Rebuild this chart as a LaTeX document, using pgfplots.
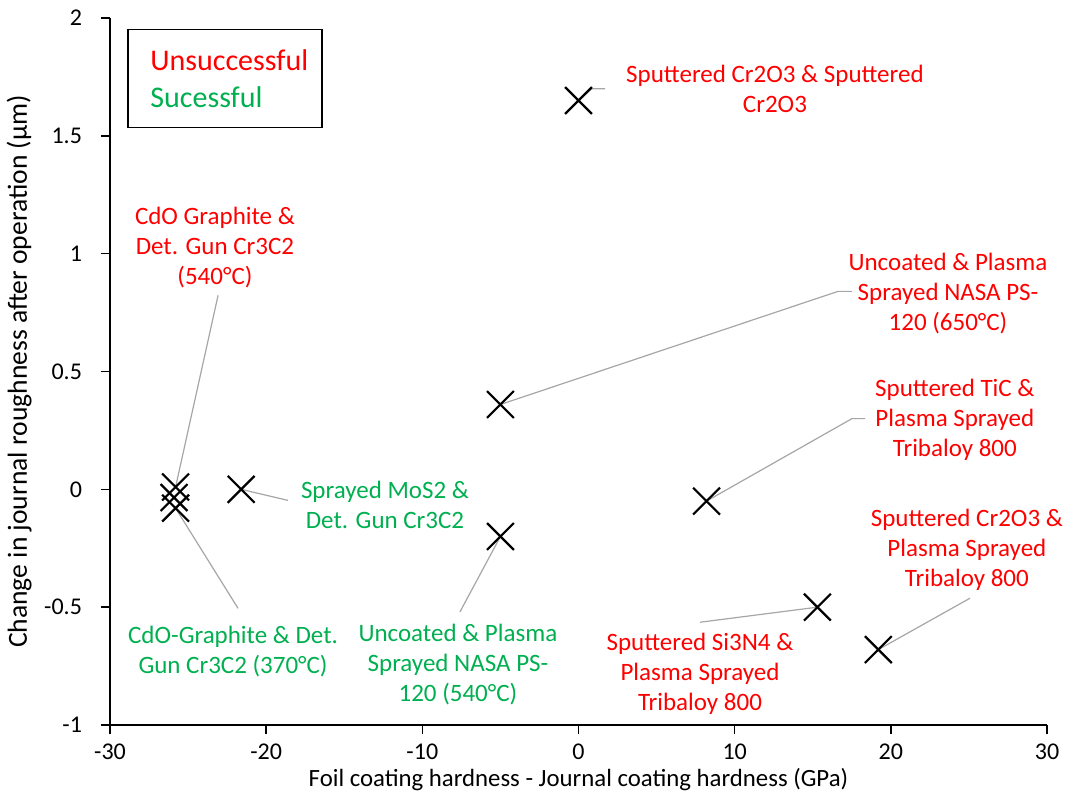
\documentclass[border=0pt]{standalone}
\usepackage{pgfplots}
\pgfplotsset{compat=1.18}
\usepackage{pgfplotstable}
\usepackage{fontspec}
\setmainfont{Carlito}

\definecolor{unsucc}{HTML}{FF0000}
\definecolor{succ}{HTML}{00B050}
\definecolor{leader}{HTML}{A6A6A6}

% hardness difference (GPa) vs change in journal roughness (um)
\pgfplotstableread{
x      y
0.0    1.65
-25.8  0.01
-25.9  -0.035
-25.8  -0.08
-21.6  0.00
-5.0   0.36
-5.0   -0.20
8.2    -0.05
15.3   -0.50
19.2   -0.68
}\coatings

\begin{document}
\begin{tikzpicture}[
    ann/.style={align=center, font=\fontsize{12.5}{15}\selectfont},
    lead/.style={leader, line width=0.6pt}
  ]
  \begin{axis}[
      scale only axis,
      width=468.5pt, height=353.5pt,
      xmin=-30, xmax=30, ymin=-1, ymax=2,
      xtick={-30,-20,...,30},
      ytick={-1,-0.5,...,2},
      axis x line*=bottom,
      axis y line*=left,
      axis line style={-, line width=0.8pt},
      tick align=outside,
      major tick length=4.5pt,
      tick style={line width=0.8pt, black},
      ticklabel style={font=\fontsize{12}{14}\selectfont},
      xticklabel style={yshift=-1.5pt},
      yticklabel style={xshift=-6pt},
      /pgf/number format/assume math mode=true,
      xlabel={Foil coating hardness - Journal coating hardness (GPa)},
      ylabel={Change in journal roughness after operation (μm)},
      xlabel style={font=\fontsize{12.4}{15}\selectfont,
        at={(axis description cs:0.5,-0.0866)}, anchor=base},
      ylabel style={font=\fontsize{13.8}{16}\selectfont,
        at={(axis description cs:-0.0886,0.5)}, anchor=base},
      clip=false,
    ]
    % leader lines
    \draw[lead] (axis cs:0,1.65) -- (axis cs:0.86,1.70) -- (axis cs:1.70,1.70);
    \draw[lead] (axis cs:-23.08,0.823) -- (axis cs:-25.8,0.01);
    \draw[lead] (axis cs:-5,0.36) -- (axis cs:16.62,0.84) -- (axis cs:17.51,0.84);
    \draw[lead] (axis cs:8.2,-0.05) -- (axis cs:17.51,0.30) -- (axis cs:18.35,0.30);
    \draw[lead] (axis cs:-21.6,0) -- (axis cs:-18.60,-0.047);
    \draw[lead] (axis cs:-7.59,-0.52) -- (axis cs:-5,-0.2);
    \draw[lead] (axis cs:-21.80,-0.505) -- (axis cs:-25.8,-0.08);
    \draw[lead] (axis cs:25.07,-0.462) -- (axis cs:19.2,-0.68);
    \draw[lead] (axis cs:7.78,-0.564) -- (axis cs:15.3,-0.5);

    \addplot[only marks, mark=x, mark size=9.5pt, mark options={line width=1.1pt, black}]
      table[x=x, y=y] {\coatings};

    % annotations
    \node[ann, unsucc] at (axis cs:12.58,1.70) {Sputtered Cr2O3 \& Sputtered\\Cr2O3};
    \node[ann, unsucc] at (axis cs:-23.28,1.027) {CdO Graphite \&\\Det. Gun Cr3C2\\(540°C)};
    \node[ann, unsucc] at (axis cs:23.66,0.832) {Uncoated \& Plasma\\Sprayed NASA PS-\\120 (650°C)};
    \node[ann, unsucc] at (axis cs:24.1,0.297) {Sputtered TiC \&\\Plasma Sprayed\\Tribaloy 800};
    \node[ann, succ] at (axis cs:-12.39,-0.068) {Sprayed MoS2 \&\\Det. Gun Cr3C2};
    \node[ann, succ] at (axis cs:-7.72,-0.743) {Uncoated \& Plasma\\Sprayed NASA PS-\\120 (540°C)};
    \node[ann, succ] at (axis cs:-22.12,-0.69) {CdO-Graphite \& Det.\\Gun Cr3C2 (370°C)};
    \node[ann, unsucc] at (axis cs:24.87,-0.255) {Sputtered Cr2O3 \&\\Plasma Sprayed\\Tribaloy 800};
    \node[ann, unsucc] at (axis cs:7.78,-0.785) {Sputtered Si3N4 \&\\Plasma Sprayed\\Tribaloy 800};

    % key box
    \draw[line width=0.8pt] (axis cs:-28.85,1.952) rectangle (axis cs:-16.43,1.536);
    \node[anchor=west, inner sep=0pt, unsucc, font=\fontsize{15}{18}\selectfont] at (axis cs:-27.44,1.820) {Unsuccessful};
    \node[anchor=west, inner sep=0pt, succ, font=\fontsize{15}{18}\selectfont] at (axis cs:-27.44,1.663) {Sucessful};
  \end{axis}
  \pgfresetboundingbox
  \path[use as bounding box] (current axis.south west) ++(-55pt,-33pt) rectangle ++(532.5pt,395.5pt);
\end{tikzpicture}
\end{document}
